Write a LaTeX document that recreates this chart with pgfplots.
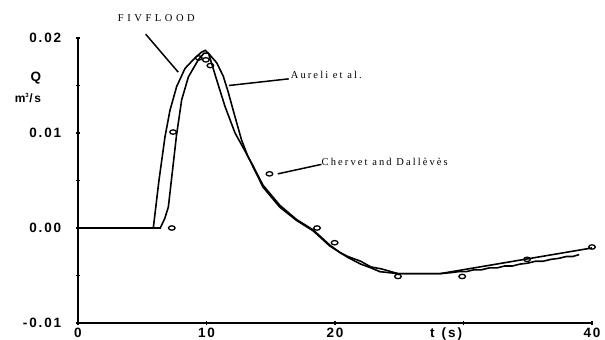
\documentclass[border=0pt]{standalone}
\usepackage{pgfplots}
\pgfplotsset{compat=1.18}
\usepackage{fontspec}
\setmainfont{Liberation Sans}
\newfontfamily\lab[LetterSpace=14]{Liberation Sans}
\newfontfamily\ann[LetterSpace=20]{Liberation Serif}
\newfontfamily\annw[LetterSpace=34]{Liberation Serif}
\begin{document}
\begin{tikzpicture}
\begin{axis}[
  scale only axis, width=514bp, height=285bp,
  xmin=0, xmax=40, ymin=-0.01, ymax=0.02,
  axis x line=bottom, axis y line=left,
  axis line style={line width=2pt,-},
  scaled y ticks=false, scaled x ticks=false,
  xtick={0,10,20,30,40}, xticklabels={0,10,20,{},40},
  ytick={-0.01,-0.005,0,0.005,0.01,0.015,0.02},
  yticklabels={-0.01,{},0.00,{},0.01,{},0.02},
  tick align=center, major tick length=4.5bp,
  tick style={line width=1.5pt,black},
  ticklabel style={font=\fontsize{13.5bp}{13.5bp}\lab\bfseries},
  yticklabel style={xshift=-11bp},
  xticklabel style={yshift=1bp},
  clip=false,
]
% FIVFLOOD
\addplot[black, line width=1.6pt] coordinates {
(0,0) (5.86,0) (6.3,0.0050) (6.77,0.0096) (7.16,0.0124) (7.68,0.0149)
(8.33,0.0168) (9.1,0.0179) (9.6,0.0185) (9.9,0.0187) (10.15,0.0184)
(10.27,0.0179) (10.79,0.0156) (11.44,0.0128) (12.22,0.0100) (13.0,0.0081)
(13.6,0.0066) (14.4,0.0045) (15.7,0.0024) (17.0,0.0009) (18.3,-0.0002)
(19.6,-0.0018) (20.4,-0.0026) (21.0,-0.0030) (22.0,-0.0035) (22.8,-0.0041)
(23.6,-0.0043) (24.9,-0.0048) (28.2,-0.0048)
(29.0,-0.0047) (29.6,-0.0046) (30.2,-0.0046) (30.8,-0.0044) (31.4,-0.0044)
(32.0,-0.0042) (32.6,-0.0042) (33.2,-0.0040) (33.8,-0.0040) (34.4,-0.0038)
(35.0,-0.0037) (35.6,-0.0035) (36.2,-0.0035) (36.8,-0.0033) (37.4,-0.0032)
(38.0,-0.0030) (38.5,-0.0030) (39.0,-0.0028)
};
% Aureli et al.
\addplot[black, line width=1.6pt] coordinates {
(0,0) (6.4,0) (6.75,0.0010) (7.03,0.0022) (7.35,0.0060) (7.67,0.0098)
(8.07,0.0135) (8.59,0.0159) (9.36,0.0177) (9.8,0.0184) (10.14,0.0184)
(10.79,0.0174) (11.3,0.0160) (11.67,0.0144) (12.2,0.0118) (12.72,0.0093)
(13.2,0.0076) (14.4,0.0043) (15.7,0.0022) (17.0,0.0008) (18.3,-0.0003)
(19.6,-0.0019) (21.0,-0.0031) (22.0,-0.0038) (22.8,-0.0042) (23.5,-0.0046)
(24.9,-0.0048) (28.2,-0.0048) (40,-0.0021)
};
% Chervet and Dallèvès (observed)
\addplot[only marks, mark=o, mark size=2.2bp,
  mark options={xscale=1.5, line width=1.3pt, black}] coordinates {
(7.3,0) (7.4,0.0101) (9.4,0.0179) (9.95,0.0177) (10.3,0.0171)
(14.9,0.0057) (18.6,0) (19.97,-0.00155) (24.9,-0.0051) (29.9,-0.0051)
(34.95,-0.0033) (40,-0.0020)
};
% annotations
\draw[line width=1.5pt] (axis cs:5.27,0.0204) -- (axis cs:7.80,0.0164);
\draw[line width=1.5pt] (axis cs:11.75,0.0150) -- (axis cs:16.4,0.0157);
\draw[line width=1.5pt] (axis cs:15.55,0.0057) -- (axis cs:18.95,0.0067);
\node[anchor=center, inner sep=0pt, font=\fontsize{10.5bp}{10.5bp}\annw] at (axis cs:6.1,0.0221) {FIVFLOOD};
\node[anchor=west, inner sep=0pt, font=\fontsize{10.5bp}{10.5bp}\ann] at (axis cs:16.55,0.0161) {Aureli et al.};
\node[anchor=west, inner sep=0pt, font=\fontsize{10.5bp}{10.5bp}\ann] at (axis cs:18.95,0.0070) {Chervet and Dallèvès};
\node[anchor=north east, inner sep=0pt, font=\fontsize{13.5bp}{13.5bp}\lab\bfseries] at (axis cs:29.9,-0.01045) {t\kern7bp(s)};
\node[anchor=center, inner sep=0pt, font=\fontsize{13.5bp}{13.5bp}\lab\bfseries] at (axis cs:-3.27,0.0158) {Q};
\node[anchor=center, inner sep=0pt, font=\fontsize{12bp}{12bp}\lab\bfseries] at (axis cs:-3.9,0.0137) {m\textsuperscript{\fontsize{6bp}{6bp}\selectfont 3}/s};
\end{axis}
\pgfresetboundingbox
\path[use as bounding box] (-78bp,-17bp) rectangle (527bp,323bp);
\end{tikzpicture}
\end{document}
